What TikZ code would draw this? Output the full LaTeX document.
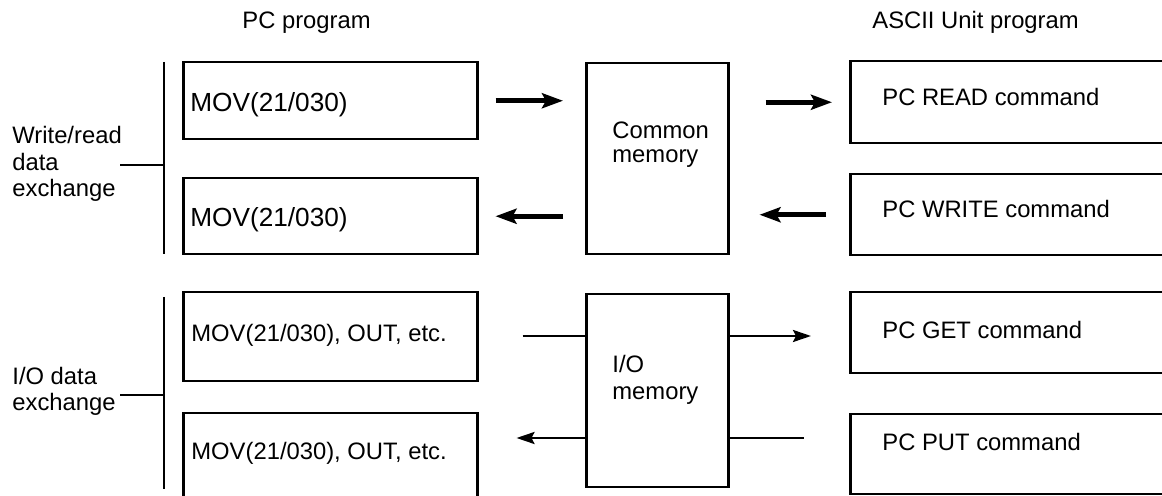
\documentclass[tikz,border=0pt]{standalone}
\usepackage{fontspec}
\setmainfont{Liberation Sans}
\usetikzlibrary{arrows.meta,calc}
\begin{document}
\begin{tikzpicture}[x=0.5pt,y=-0.5pt,
  box/.style={draw, line width=1.25pt, rectangle, anchor=north west, inner sep=0pt},
  txt/.style={anchor=base west, inner sep=0pt, font=\fontsize{11.9}{13}\selectfont},
  big/.style={anchor=base west, inner sep=0pt, font=\fontsize{13.1}{15}\selectfont},
  fat/.style={line width=2.3pt, -{Stealth[length=10.5pt,width=7.5pt,inset=2pt]}},
  thinarrow/.style={line width=1.25pt, -{Stealth[length=9pt,width=6pt,inset=1.5pt]}},
  thinline/.style={line width=1.25pt},
  brk/.style={line width=1.25pt}]
\useasboundingbox (0,0) rectangle (1162,496);
\clip (0,0) rectangle (1162,496);

% titles
\node[txt] (t1) at (242,29) {PC program};
\node[txt] (t2) at (872,29) {ASCII Unit program};

% left labels
\node[txt, font=\fontsize{11.9}{13.25}\selectfont] (lab1) at (12,144)
  {\begin{tabular}[t]{@{}l@{}}Write/read\\data\\exchange\end{tabular}};
\node[txt, font=\fontsize{11.9}{13}\selectfont] (lab2) at (12,385)
  {\begin{tabular}[t]{@{}l@{}}I/O data\\exchange\end{tabular}};

% brackets
\draw[brk] (164,62) -- (164,254);
\draw[brk] (120,165) -- (164,165);
\draw[brk] (164,297) -- (164,489);
\draw[brk] (120,395) -- (164,395);

% PC program boxes
\node[box, minimum width=147pt, minimum height=38.5pt] (pa) at (182,61) {};
\node[box, minimum width=147pt, minimum height=38pt] (pb) at (182,177) {};
\node[box, minimum width=147pt, minimum height=44.5pt] (pc) at (182,291) {};
\node[box, minimum width=147pt, minimum height=60pt] (pd) at (182,412) {};
\node[big] (pat) at ($(pa.north west)+(8,51)$) {MOV(21/030)};
\node[big] (pbt) at ($(pb.north west)+(8,50)$) {MOV(21/030)};
\node[txt] (pct) at ($(pc.north west)+(9,51)$) {MOV(21/030), OUT, etc.};
\node[txt] (pdt) at ($(pd.north west)+(9,47)$) {MOV(21/030), OUT, etc.};

% memories
\node[box, minimum width=71pt, minimum height=95.5pt] (cm) at (585,62) {};
\node[box, minimum width=71pt, minimum height=96.5pt] (io) at (585,293) {};
\node[txt, font=\fontsize{11.9}{12}\selectfont] (cmt) at ($(cm.north west)+(27,77)$)
  {\begin{tabular}[t]{@{}l@{}}Common\\memory\end{tabular}};
\node[txt, font=\fontsize{11.9}{13.5}\selectfont] (iot) at ($(io.north west)+(27,80)$)
  {\begin{tabular}[t]{@{}l@{}}I/O\\memory\end{tabular}};

% ASCII unit boxes
\node[box, minimum width=175pt, minimum height=41pt] (rd) at (849,60) {};
\node[box, minimum width=175pt, minimum height=40.5pt] (wr) at (849,173) {};
\node[box, minimum width=175pt, minimum height=40.5pt] (gt) at (849,291) {};
\node[box, minimum width=175pt, minimum height=40pt] (pt) at (849,413) {};
\node[txt] (rdt) at ($(rd.north west)+(33,46)$) {PC READ command};
\node[txt] (wrt) at ($(wr.north west)+(33,45)$) {PC WRITE command};
\node[txt] (gtt) at ($(gt.north west)+(33,48)$) {PC GET command};
\node[txt] (ptt) at ($(pt.north west)+(33,38)$) {PC PUT command};

% write/read arrows
\draw[fat, shorten <=8.5pt, shorten >=11pt] (pa.east) -- (pa.east -| cm.west);
\draw[fat, shorten <=18pt, shorten >=8.5pt] (rd.west -| cm.east) -- (rd.west);
\draw[fat, shorten <=11pt, shorten >=8.5pt] (pb.east -| cm.west) -- (pb.east);
\draw[fat, shorten <=11.5pt, shorten >=15pt] (wr.west) -- (wr.west -| cm.east);

% I/O arrows
\coordinate (ioy1) at (0,336);
\coordinate (ioy2) at (0,438);
\draw[thinline, shorten <=22pt] (pc.east |- ioy1) -- (io.west |- ioy1);
\draw[thinarrow, shorten >=19pt] (io.east |- ioy1) -- (gt.west |- ioy1);
\draw[thinarrow, shorten >=19pt] (io.west |- ioy2) -- (pd.east |- ioy2);
\draw[thinline, shorten >=22.5pt] (io.east |- ioy2) -- (pt.west |- ioy2);
\end{tikzpicture}
\end{document}
